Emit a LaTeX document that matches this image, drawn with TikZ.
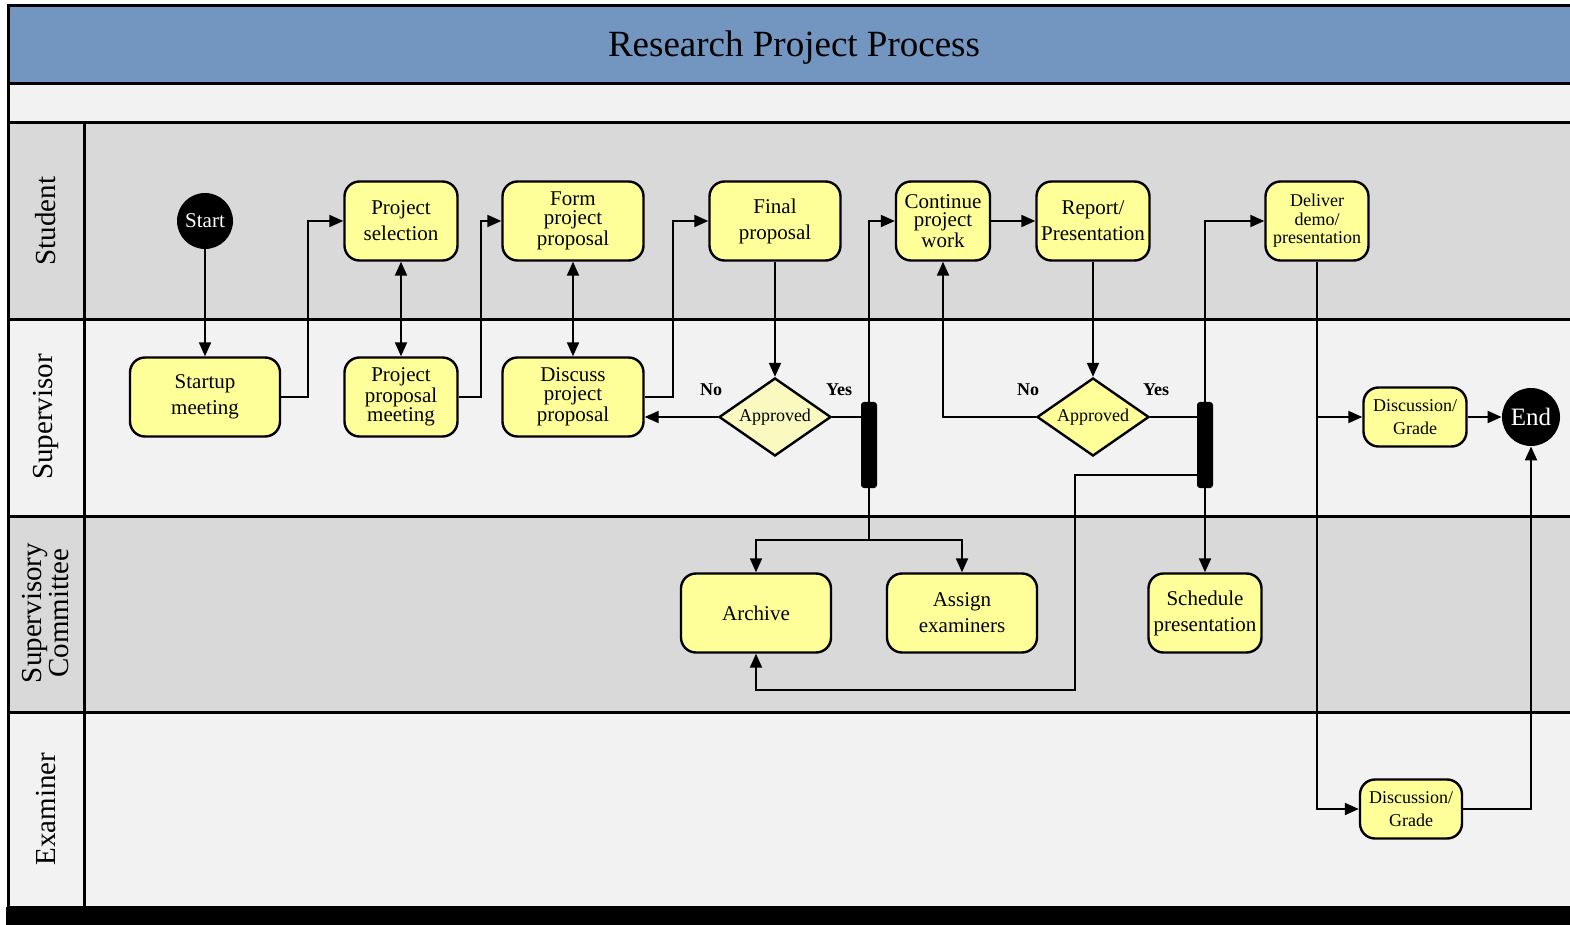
\documentclass[tikz,border=0pt]{standalone}
\usepackage{fontspec}
\setmainfont{Liberation Serif}
\usetikzlibrary{arrows.meta,shapes.geometric}
\definecolor{titleblue}{RGB}{115,150,192}
\definecolor{lanedark}{RGB}{217,217,217}
\definecolor{lanelight}{RGB}{242,242,242}
\definecolor{boxyellow}{RGB}{255,255,153}
\definecolor{paleyellow}{RGB}{250,250,192}
\tikzset{
 lane/.style={draw,line width=1.5pt},
 act/.style={draw,line width=1.2pt,fill=boxyellow,rounded corners=7.5pt,align=center,minimum height=39.5pt,inner sep=1pt,font=\fontsize{10.5}{13}\selectfont},
 tight/.style={act,font=\fontsize{10.5}{9.25}\selectfont},
 small/.style={act,minimum height=29.5pt,font=\fontsize{9}{11.5}\selectfont},
 dec/.style={draw,diamond,aspect=1.44,line width=1.2pt,fill=boxyellow,minimum width=56pt,minimum height=39pt,inner sep=0pt,font=\fontsize{9}{10}\selectfont},
 term/.style={circle,fill=black,text=white,inner sep=0pt},
 fork/.style={fill=black,rounded corners=1.5pt,minimum width=8pt,minimum height=43pt,inner sep=0pt},
 flow/.style={line width=1pt,-{Triangle[length=7pt,width=6pt]}},
 flowboth/.style={line width=1pt,{Triangle[length=7pt,width=6pt]}-{Triangle[length=7pt,width=6pt]}},
 lab/.style={font=\bfseries\fontsize{9}{10}\selectfont},
 lanelab/.style={rotate=90,align=center,font=\fontsize{14.5}{13.5}\selectfont}
}
\begin{document}
\begin{tikzpicture}[x=0.5pt,y=-0.5pt]
\useasboundingbox (0,0) rectangle (1570,925);
\draw[lane,fill=titleblue] (8,6) rectangle (1580,84);
\draw[lane,fill=lanelight] (8,84) rectangle (1580,123);
\foreach \ya/\yb/\c in {123/320/lanedark,320/516/lanelight,516/712/lanedark,712/907/lanelight}{
 \draw[lane,fill=\c] (8,\ya) rectangle (1580,\yb);
 \draw[lane] (84,\ya)--(84,\yb);
}
\fill (6,907) rectangle (1580,925);
\node[anchor=base,font=\fontsize{18.5}{20}\selectfont] (title) at (794,57) {Research Project Process};
\foreach \y/\lab in {221/Student,417/Supervisor,613/{Supervisory\\Committee},809/Examiner}{
 \node[lanelab] at (46,\y) {\lab};
}
\node[term,minimum size=28pt,font=\fontsize{10.5}{12}\selectfont] (start) at (205,221) {Start};
\node[term,minimum size=29pt,font=\fontsize{12.5}{14}\selectfont] (end) at (1531,417) {End};
\node[act,minimum width=75pt] (startup) at (205,397) {Startup\\meeting};
\node[act,minimum width=56.5pt] (psel) at (401,221) {Project\\selection};
\node[tight,minimum width=56.5pt] (ppm) at (401,397) {Project\\proposal\\meeting};
\node[tight,minimum width=70.5pt] (form) at (573,221) {Form\\project\\proposal};
\node[tight,minimum width=70.5pt] (disc) at (573,397) {Discuss\\project\\proposal};
\node[act,minimum width=65.5pt] (final) at (775,221) {Final\\proposal};
\node[dec,fill=paleyellow] (app1) at (775,417) {Approved};
\node[fork] (fork1) at (869,445) {};
\node[tight,minimum width=47pt] (cont) at (943,221) {Continue\\project\\work};
\node[act,minimum width=56.5pt] (rep) at (1093,221) {Report/\\Presentation};
\node[dec] (app2) at (1093,417) {Approved};
\node[fork] (fork2) at (1205,445) {};
\node[tight,minimum width=51.5pt,font=\fontsize{9}{9.25}\selectfont] (deliv) at (1317,221) {Deliver\\demo/\\presentation};
\node[small,minimum width=51.5pt] (dgs) at (1415,417) {Discussion/\\Grade};
\node[small,minimum width=51pt] (dge) at (1411,809) {Discussion/\\Grade};
\node[act,minimum width=75pt] (arch) at (756,613) {Archive};
\node[act,minimum width=75pt] (assign) at (962,613) {Assign\\examiners};
\node[act,minimum width=56.5pt] (sched) at (1205,613) {Schedule\\presentation};
\foreach \x/\t in {711/No,839/Yes,1028/No,1156/Yes}{\node[lab] at (\x,390) {\t};}
\coordinate (split) at (869,540);
\coordinate (back) at (1075,690);
\draw[flow] (start)--(startup);
\draw[flow] (startup.east)--++(27,0) |- (psel.west);
\draw[flowboth] (psel)--(ppm);
\draw[flow] (ppm.east)--++(22,0) |- (form.west);
\draw[flowboth] (form)--(disc);
\draw[flow] (disc.east)--++(28,0) |- (final.west);
\draw[flow] (final)--(app1);
\draw[flow] (app1.west)--(app1.west -| disc.east);
\draw[line width=1pt] (app1.east)--(app1.east -| fork1.west);
\draw[flow] (fork1.north) |- (cont.west);
\draw[line width=1pt] (fork1.south)--(split);
\draw[flow] (split) -| (arch.north);
\draw[flow] (split) -| (assign.north);
\draw[flow] (cont)--(rep);
\draw[flow] (rep)--(app2);
\draw[flow] (app2.west) -| (cont.south);
\draw[line width=1pt] (app2.east)--(app2.east -| fork2.west);
\draw[flow] (fork2.north) |- (deliv.west);
\draw[flow] (fork2)--(sched);
\draw[flow] ([yshift=-15pt]fork2.west) -| (back) -| (arch.south);
\draw[flow] (deliv.south) |- (dge.west);
\draw[flow] (deliv.south |- dgs.west)--(dgs.west);
\draw[flow] (dgs)--(end);
\draw[flow] (dge.east) -| (end.south);
\end{tikzpicture}
\end{document}
